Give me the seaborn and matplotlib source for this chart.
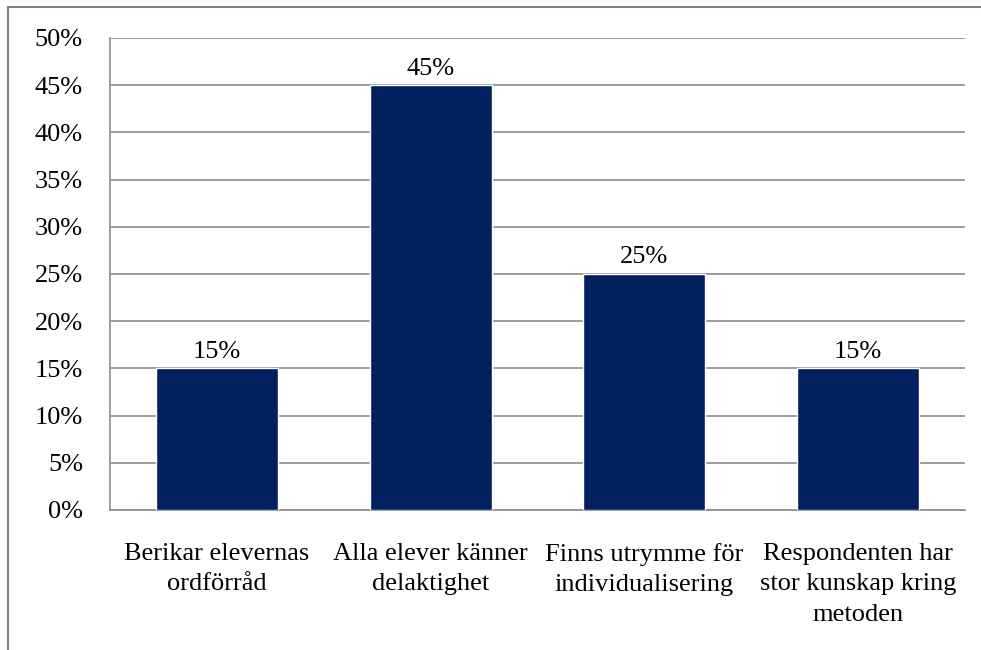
import matplotlib
matplotlib.use("Agg")
import matplotlib.pyplot as plt
import seaborn as sns
import pandas as pd
from matplotlib.lines import Line2D

categories = ["Berikar elevernas\nordförråd",
              "Alla elever känner\ndelaktighet",
              "Finns utrymme för\nindividualisering",
              "Respondenten har\nstor kunskap kring\nmetoden"]
values = [15, 45, 25, 15]
yticks = [0, 5, 10, 15, 20, 25, 30, 35, 40, 45, 50]

sns.set_theme(style="white")
plt.rcParams['font.family'] = ['Liberation Serif', 'DejaVu Serif']

df = pd.DataFrame({"cat": categories, "val": values})

W, H = 981, 650
FS = 19
fig = plt.figure(figsize=(W / 100, H / 100), dpi=100)
ax = fig.add_axes([110 / W, 1 - 510 / H, (965 - 110) / W, (510 - 38) / H])

sns.barplot(data=df, x="cat", y="val", color="#002060", saturation=1,
            width=0.57, ax=ax, zorder=3)

ax.set_ylim(0, 50)
ax.set_yticks(yticks)
ax.set_yticklabels([f"{t}%" for t in yticks], fontsize=FS, color="black")
ax.yaxis.grid(True, color="#8c8c8c", linewidth=1.2, zorder=0)
ax.set_axisbelow(True)
ax.tick_params(axis="y", length=0, pad=19.5)
ax.tick_params(axis="x", length=0, pad=23.5, labelsize=FS, labelcolor="black")
for lab in ax.get_xticklabels():
    lab.set_linespacing(1.52)
ax.set_xlabel("")
ax.set_ylabel("")
for s in ["top", "right"]:
    ax.spines[s].set_visible(False)
for s in ["left", "bottom"]:
    ax.spines[s].set_color("#8c8c8c")
    ax.spines[s].set_linewidth(1.2)

for i, v in enumerate(values):
    ax.annotate(f"{v}%", (i, v), xytext=(0, 4), textcoords="offset points",
                ha="center", va="bottom", fontsize=FS, color="black")

# outer frame (left and top visible)
fig.add_artist(Line2D([8 / W, 8 / W], [0, 1 - 7 / H], transform=fig.transFigure,
                      color="#7f7f7f", linewidth=1.5))
fig.add_artist(Line2D([8 / W, 1], [1 - 7 / H, 1 - 7 / H], transform=fig.transFigure,
                      color="#7f7f7f", linewidth=1.5))

fig.savefig("out.png", dpi=100)
